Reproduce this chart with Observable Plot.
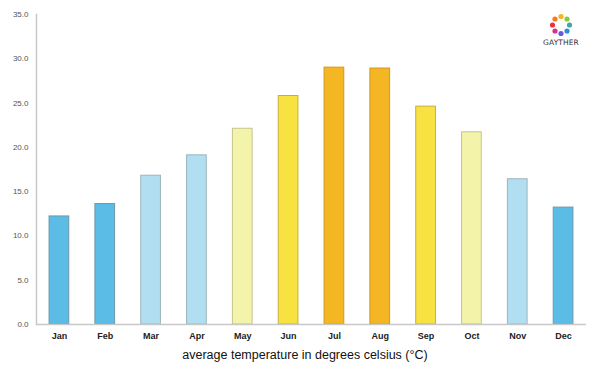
<!DOCTYPE html>
<html>
<head>
<meta charset="utf-8">
<script src="https://cdn.jsdelivr.net/npm/d3@7"></script>
<script src="https://cdn.jsdelivr.net/npm/@observablehq/plot@0.6"></script>
<style>
  html, body { margin: 0; padding: 0; background: #fff; }
  #wrap { position: relative; width: 600px; height: 375px; }
  #title { position: absolute; left: 0; width: 610px; top: 348px; text-align: center;
    font-family: "Liberation Sans", Arial, sans-serif; font-size: 12.5px; color: #111; }
  #logo { position: absolute; left: 536px; top: 11px; width: 50px; text-align: center;
    font-family: "DejaVu Sans", sans-serif; font-size: 7.5px; color: #333; letter-spacing: 0.1px; }
</style>
</head>
<body>
<div id="wrap">
  <div id="chart"></div>
  <div id="title">average temperature in degrees celsius (°C)</div>
  <div id="logo">
    <svg width="28" height="28" viewBox="-14 -14 28 28" id="logosvg"></svg>
    <div style="margin-top:-3px">GAYTHER</div>
  </div>
</div>
<script>
const months = ["Jan","Feb","Mar","Apr","May","Jun","Jul","Aug","Sep","Oct","Nov","Dec"];
const temps = [12.2, 13.6, 16.8, 19.1, 22.1, 25.8, 29.0, 28.9, 24.6, 21.7, 16.4, 13.2];
const bands = ["cold","cold","cool","cool","mild","warm","hot","hot","warm","mild","cool","cold"];
const bandNames = ["cold","cool","mild","warm","hot"];
const bandColors = ["#5bbde6","#b1dff1","#f3f4a9","#f8e242","#f4b623"];
const bandStrokes = ["#6f97a8","#9fb4bd","#c4c48c","#c6b03c","#cf981e"];
const yTicks = [0, 5, 10, 15, 20, 25, 30, 35];

const data = months.map((m, i) => ({month: m, temp: temps[i], band: bands[i]}));
const strokeOf = Object.fromEntries(bandNames.map((b, i) => [b, bandStrokes[i]]));

const chart = Plot.plot({
  width: 600,
  height: 345,
  marginTop: 14,
  marginBottom: 21,
  marginLeft: 36,
  marginRight: 14,
  style: {fontFamily: "'Liberation Sans', Arial, sans-serif", background: "#fff"},
  x: {domain: months, paddingInner: 0.57, paddingOuter: 0.285, round: false, label: null},
  y: {domain: [0, 35], label: null},
  color: {domain: bandNames, range: bandColors},
  marks: [
    Plot.barY(data, {x: "month", y: "temp", fill: "band", stroke: d => strokeOf[d.band], strokeWidth: 1}),
    Plot.axisY({ticks: yTicks, tickSize: 0, tickPadding: 8, tickFormat: d => d.toFixed(1),
      fontSize: 8, fill: "#555", label: null}),
    Plot.axisX({tickSize: 0, tickPadding: 8, fontSize: 9, fontWeight: "bold", fill: "#222", label: null}),
    Plot.ruleY([0], {stroke: "#c8c8c8", strokeWidth: 1.5}),
    Plot.frame({anchor: "left", stroke: "#c8c8c8", strokeWidth: 1.5, strokeOpacity: 1})
  ]
});
document.getElementById("chart").appendChild(chart);

// logo ring
const logoColors = ["#f6b51e","#8dc63f","#3fa9a0","#2b8fd6","#6a5bd6","#d6338f","#e8343a","#f47b20"];
const ls = d3.select("#logosvg");
logoColors.forEach((c, i) => {
  const a = (i / logoColors.length) * 2 * Math.PI - Math.PI / 2;
  ls.append("circle").attr("cx", 8.5 * Math.cos(a)).attr("cy", 8.5 * Math.sin(a)).attr("r", 2.6).attr("fill", c);
});
</script>
</body>
</html>
